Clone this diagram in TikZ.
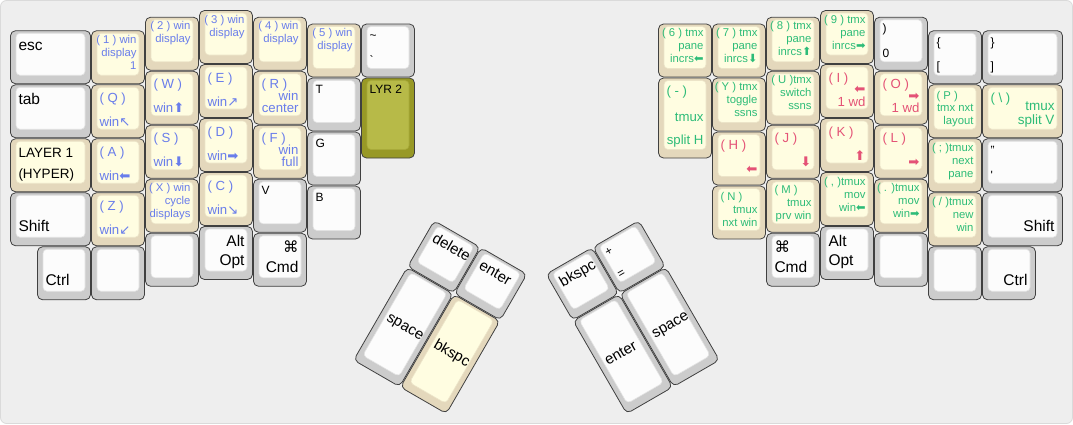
\documentclass[tikz,border=0pt]{standalone}
\usepackage{fontspec}
\setmainfont{Liberation Sans}
\newfontfamily\symfont{DejaVu Sans}
\usepackage{tikz}
\definecolor{bgpanel}{RGB}{238,238,238}
\definecolor{bgline}{RGB}{218,218,218}
\definecolor{grayrim}{RGB}{204,204,204}
\definecolor{grayface}{RGB}{252,252,252}
\definecolor{grayedge}{RGB}{226,226,226}
\definecolor{tanrim}{RGB}{228,216,188}
\definecolor{tanface}{RGB}{255,253,225}
\definecolor{tanedge}{RGB}{236,228,200}
\definecolor{oliverim}{RGB}{152,153,38}
\definecolor{oliveface}{RGB}{183,186,72}
\definecolor{oliveedge}{RGB}{168,170,58}
\definecolor{winblue}{RGB}{105,125,235}
\definecolor{tmxgreen}{RGB}{45,188,120}
\definecolor{movred}{RGB}{228,82,118}
\newcommand{\arw}[1]{{\symfont #1}}
\newcommand{\kst}[2]{\vrule height #1 depth #2 width 0pt}
\def\kH{10pt}\def\kD{2pt}
\tikzset{
  keyrim/.style={line width=0.8pt,draw=black!75,rounded corners=5pt},
  keyface/.style={line width=0.6pt,rounded corners=4pt},
  lab/.style={inner sep=0pt,outer sep=0pt},
  ptl/.style={anchor=north west,align=left,execute at begin node={\kst{\kH}{0pt}}},
  ptr/.style={anchor=north east,align=right,execute at begin node={\kst{\kH}{0pt}}},
  pbl/.style={anchor=south west,align=left,execute at end node={\kst{0pt}{\kD}}},
  pbr/.style={anchor=south east,align=right,execute at end node={\kst{0pt}{\kD}}},
  pml/.style={anchor=west,align=left,execute at begin node={\kst{\kH}{\kD}}},
  pmr/.style={anchor=east,align=right,execute at begin node={\kst{\kH}{\kD}}},
  txtblue/.style={text=winblue},
  txtgreen/.style={text=tmxgreen},
  txtred/.style={text=movred}
}
% key: name, x, y, width, height, colour set
\newcommand{\kbkey}[6]{%
  \draw[keyrim,fill=#6rim] (#2+0.5,#3+0.5) rectangle ++(#4-1,#5-1);
  \draw[keyface,draw=#6edge,fill=#6face] (#2+6,#3+3) rectangle ++(#4-12,#5-12);
  \coordinate (#1-tl) at (#2+8.5,#3+5);
  \coordinate (#1-tr) at (#2+#4-8.5,#3+5);
  \coordinate (#1-bl) at (#2+8.5,#3+#5-11);
  \coordinate (#1-br) at (#2+#4-8.5,#3+#5-11);
  \coordinate (#1-ml) at (#2+8.5,#3+#5/2-3);
  \coordinate (#1-mr) at (#2+#4-8.5,#3+#5/2-3);
}
\newcommand{\lab}[4]{\node[lab,#3,p#2] (#1-#2-txt) at (#1-#2) {#4};}
\AtBeginDocument{\lineskiplimit=-100pt}

\begin{document}
\begin{tikzpicture}[
  x=1pt,y=-1pt,
  lbig/.style={font=\fontsize{15.5}{17}\selectfont,/utils/exec={\def\kH{15pt}\def\kD{3.5pt}}},
  lthumb/.style={font=\fontsize{15}{17}\selectfont,/utils/exec={\def\kH{15pt}\def\kD{3.5pt}}},
  llyr/.style={font=\fontsize{13.5}{14}\selectfont,/utils/exec={\def\kH{14pt}\def\kD{1pt}}},
  lmid/.style={font=\fontsize{13.2}{12.5}\selectfont,/utils/exec={\def\kH{13pt}\def\kD{1pt}}},
  lkey/.style={font=\fontsize{12}{13}\selectfont,/utils/exec={\def\kH{11pt}\def\kD{2pt}}},
  lsml/.style={font=\fontsize{11.3}{13}\selectfont,/utils/exec={\def\kH{10pt}\def\kD{2pt}}}
]
\useasboundingbox (0,0) rectangle (1073,424);
\draw[fill=bgpanel,draw=bgline,line width=0.8pt,rounded corners=6pt] (0.5,0.5) rectangle (1072.5,423.5);

% left hand
\kbkey{esc}{10}{30.25}{81}{54}{gray}   \lab{esc}{tl}{lbig}{esc}
\kbkey{tab}{10}{84.25}{81}{54}{gray}   \lab{tab}{tl}{lbig}{tab}
\kbkey{hyp}{10}{138.25}{81}{54}{tan}   \lab{hyp}{tl}{llyr}{LAYER 1} \lab{hyp}{bl}{llyr}{(HYPER)}
\kbkey{lsh}{10}{192.25}{81}{54}{gray}  \lab{lsh}{bl}{lbig}{Shift}
\kbkey{lct}{37}{246.25}{54}{54}{gray}  \lab{lct}{bl}{lbig}{Ctrl}

\kbkey{one}{91}{30.25}{54}{54}{tan}    \lab{one}{tr}{lsml,txtblue}{( 1 ) win\\display\\1}
\kbkey{q}{91}{84.25}{54}{54}{tan}      \lab{q}{tl}{lmid,txtblue}{( Q )} \lab{q}{bl}{lmid,txtblue}{win\arw{↖}}
\kbkey{a}{91}{138.25}{54}{54}{tan}     \lab{a}{tl}{lmid,txtblue}{( A )} \lab{a}{bl}{lmid,txtblue}{win\arw{⬅}}
\kbkey{z}{91}{192.25}{54}{54}{tan}     \lab{z}{tl}{lmid,txtblue}{( Z )} \lab{z}{bl}{lmid,txtblue}{win\arw{↙}}
\kbkey{lbx}{91}{246.25}{54}{54}{gray}

\kbkey{two}{145}{16.75}{54}{54}{tan}   \lab{two}{tr}{lsml,txtblue}{( 2 ) win\\display}
\kbkey{w}{145}{70.75}{54}{54}{tan}     \lab{w}{tl}{lmid,txtblue}{( W )} \lab{w}{bl}{lmid,txtblue}{win\arw{⬆}}
\kbkey{s}{145}{124.75}{54}{54}{tan}    \lab{s}{tl}{lmid,txtblue}{( S )} \lab{s}{bl}{lmid,txtblue}{win\arw{⬇}}
\kbkey{x}{145}{178.75}{54}{54}{tan}    \lab{x}{tr}{lsml,txtblue}{( X ) win\\cycle\\displays}
\kbkey{lby}{145}{232.75}{54}{54}{gray}

\kbkey{three}{199}{10}{54}{54}{tan}    \lab{three}{tr}{lsml,txtblue}{( 3 ) win\\display}
\kbkey{e}{199}{64}{54}{54}{tan}        \lab{e}{tl}{lmid,txtblue}{( E )} \lab{e}{bl}{lmid,txtblue}{win\arw{↗}}
\kbkey{d}{199}{118}{54}{54}{tan}       \lab{d}{tl}{lmid,txtblue}{( D )} \lab{d}{bl}{lmid,txtblue}{win\arw{➡}}
\kbkey{c}{199}{172}{54}{54}{tan}       \lab{c}{tl}{lmid,txtblue}{( C )} \lab{c}{bl}{lmid,txtblue}{win\arw{↘}}
\kbkey{lalt}{199}{226}{54}{54}{gray}   \lab{lalt}{tr}{lbig}{Alt} \lab{lalt}{br}{lbig}{Opt}

\kbkey{four}{253}{16.75}{54}{54}{tan}  \lab{four}{tr}{lsml,txtblue}{( 4 ) win\\display}
\kbkey{r}{253}{70.75}{54}{54}{tan}     \lab{r}{tl}{lmid,txtblue}{( R )} \lab{r}{br}{lmid,txtblue}{win\\center}
\kbkey{f}{253}{124.75}{54}{54}{tan}    \lab{f}{tl}{lmid,txtblue}{( F )} \lab{f}{br}{lmid,txtblue}{win\\full}
\kbkey{v}{253}{178.75}{54}{54}{gray}   \lab{v}{tl}{lkey}{V}
\kbkey{lcmd}{253}{232.75}{54}{54}{gray} \lab{lcmd}{tr}{lbig}{\arw{⌘}} \lab{lcmd}{br}{lbig}{Cmd}

\kbkey{five}{307}{23.5}{54}{54}{tan}   \lab{five}{tr}{lsml,txtblue}{( 5 ) win\\display}
\kbkey{t}{307}{77.5}{54}{54}{gray}     \lab{t}{tl}{lkey}{T}
\kbkey{g}{307}{131.5}{54}{54}{gray}    \lab{g}{tl}{lkey}{G}
\kbkey{b}{307}{185.5}{54}{54}{gray}    \lab{b}{tl}{lkey}{B}

\kbkey{tld}{361}{23.5}{54}{54}{gray}   \lab{tld}{tl}{lkey}{\textasciitilde} \lab{tld}{bl}{lkey}{\textasciigrave}
\kbkey{lyr}{361}{77.5}{54}{81}{olive}  \lab{lyr}{tl}{lkey}{LYR 2}

% right hand
\kbkey{six}{658}{23.5}{54}{54}{tan}    \lab{six}{tr}{lsml,txtgreen}{( 6 ) tmx\\pane\\incrs\arw{⬅}}
\kbkey{minus}{658}{77.5}{54}{81}{tan}  \lab{minus}{tl}{lmid,txtgreen}{( - )} \lab{minus}{mr}{lmid,txtgreen}{tmux} \lab{minus}{br}{lmid,txtgreen}{split H}

\kbkey{seven}{712}{23.5}{54}{54}{tan}  \lab{seven}{tr}{lsml,txtgreen}{( 7 ) tmx\\pane\\inrcs\arw{⬇}}
\kbkey{y}{712}{77.5}{54}{54}{tan}      \lab{y}{tr}{lsml,txtgreen}{( Y ) tmx\\toggle\\ssns}
\kbkey{h}{712}{131.5}{54}{54}{tan}     \lab{h}{tl}{lmid,txtred}{( H )} \lab{h}{br}{lmid,txtred}{\arw{⬅}}
\kbkey{n}{712}{185.5}{54}{54}{tan}     \lab{n}{tl}{lsml,txtgreen}{( N )} \lab{n}{br}{lsml,txtgreen}{tmux\\nxt win}

\kbkey{eight}{766}{16.75}{54}{54}{tan} \lab{eight}{tr}{lsml,txtgreen}{( 8 ) tmx\\pane\\inrcs\arw{⬆}}
\kbkey{u}{766}{70.75}{54}{54}{tan}     \lab{u}{tr}{lsml,txtgreen}{( U )tmx\\switch\\ssns}
\kbkey{j}{766}{124.75}{54}{54}{tan}    \lab{j}{tl}{lmid,txtred}{( J )} \lab{j}{br}{lmid,txtred}{\arw{⬇}}
\kbkey{m}{766}{178.75}{54}{54}{tan}    \lab{m}{tl}{lsml,txtgreen}{( M )} \lab{m}{br}{lsml,txtgreen}{tmux\\prv win}
\kbkey{rcmd}{766}{232.75}{54}{54}{gray} \lab{rcmd}{tl}{lbig}{\arw{⌘}} \lab{rcmd}{bl}{lbig}{Cmd}

\kbkey{nine}{820}{10}{54}{54}{tan}     \lab{nine}{tr}{lsml,txtgreen}{( 9 ) tmx\\pane\\inrcs\arw{➡}}
\kbkey{i}{820}{64}{54}{54}{tan}        \lab{i}{tl}{lmid,txtred}{( I )} \lab{i}{br}{lmid,txtred}{\arw{⬅}\\1 wd}
\kbkey{k}{820}{118}{54}{54}{tan}       \lab{k}{tl}{lmid,txtred}{( K )} \lab{k}{br}{lmid,txtred}{\arw{⬆}}
\kbkey{comma}{820}{172}{54}{54}{tan}   \lab{comma}{tr}{lsml,txtgreen}{( , )tmux\\mov\\win\arw{⬅}}
\kbkey{ralt}{820}{226}{54}{54}{gray}   \lab{ralt}{tl}{lbig}{Alt} \lab{ralt}{bl}{lbig}{Opt}

\kbkey{zero}{874}{16.75}{54}{54}{gray} \lab{zero}{tl}{lkey}{)} \lab{zero}{bl}{lkey}{0}
\kbkey{o}{874}{70.75}{54}{54}{tan}     \lab{o}{tl}{lmid,txtred}{( O )} \lab{o}{br}{lmid,txtred}{\arw{➡}\\1 wd}
\kbkey{l}{874}{124.75}{54}{54}{tan}    \lab{l}{tl}{lmid,txtred}{( L )} \lab{l}{br}{lmid,txtred}{\arw{➡}}
\kbkey{period}{874}{178.75}{54}{54}{tan} \lab{period}{tr}{lsml,txtgreen}{( . )tmux\\mov\\win\arw{➡}}
\kbkey{rbx}{874}{232.75}{54}{54}{gray}

\kbkey{brace}{928}{30.25}{54}{54}{gray} \lab{brace}{tl}{lkey}{\{} \lab{brace}{bl}{lkey}{[}
\kbkey{p}{928}{84.25}{54}{54}{tan}     \lab{p}{tl}{lsml,txtgreen}{( P )} \lab{p}{br}{lsml,txtgreen}{tmx nxt\\layout}
\kbkey{semi}{928}{138.25}{54}{54}{tan} \lab{semi}{tr}{lsml,txtgreen}{( ; )tmux\\next\\pane}
\kbkey{slash}{928}{192.25}{54}{54}{tan} \lab{slash}{tr}{lsml,txtgreen}{( / )tmux\\new\\win}
\kbkey{rby}{928}{246.25}{54}{54}{gray}

\kbkey{close}{982}{30.25}{81}{54}{gray} \lab{close}{tl}{lkey}{\}} \lab{close}{bl}{lkey}{]}
\kbkey{bsl}{982}{84.25}{81}{54}{tan}   \lab{bsl}{tl}{lmid,txtgreen}{( \textbackslash\ )} \lab{bsl}{br}{llyr,txtgreen}{tmux\\split V}
\kbkey{quote}{982}{138.25}{81}{54}{gray} \lab{quote}{tl}{lkey}{"} \lab{quote}{bl}{lkey}{\textquotesingle}
\kbkey{rsh}{982}{192.25}{81}{54}{gray} \lab{rsh}{br}{lbig}{Shift}
\kbkey{rct}{982}{246.25}{54}{54}{gray} \lab{rct}{br}{lbig}{Ctrl}

% thumb clusters
\begin{scope}[shift={(434,220)},rotate=-30,transform shape]
  \kbkey{tdel}{0}{0}{54}{54}{gray}     \lab{tdel}{tl}{lthumb}{delete}
  \kbkey{tent}{54}{0}{54}{54}{gray}    \lab{tent}{tl}{lthumb}{enter}
  \kbkey{tspc}{0}{54}{54}{108}{gray}   \lab{tspc}{ml}{lthumb}{space}
  \kbkey{tbks}{54}{54}{54}{108}{tan}   \lab{tbks}{ml}{lthumb}{bkspc}
\end{scope}

\begin{scope}[shift={(545.5,274)},rotate=30,transform shape]
  \kbkey{ubks}{0}{0}{54}{54}{gray}     \lab{ubks}{tl}{lthumb}{bkspc}
  \kbkey{upls}{54}{0}{54}{54}{gray}    \lab{upls}{tl}{lkey}{+} \lab{upls}{bl}{lkey}{=}
  \kbkey{uent}{0}{54}{54}{108}{gray}   \lab{uent}{ml}{lthumb}{enter}
  \kbkey{uspc}{54}{54}{54}{108}{gray}  \lab{uspc}{ml}{lthumb}{space}
\end{scope}

\end{tikzpicture}
\end{document}
